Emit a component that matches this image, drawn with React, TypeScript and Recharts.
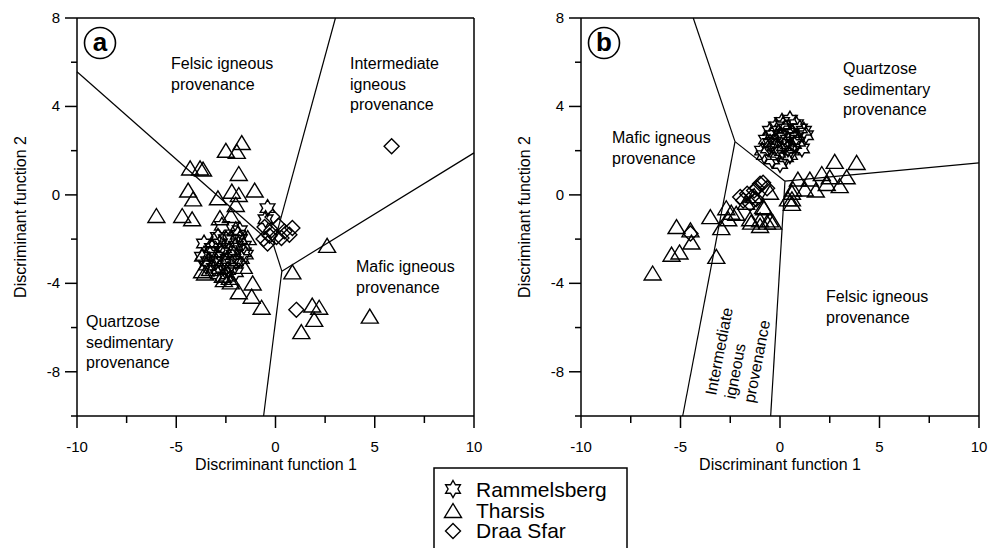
import React from 'react'
import { ScatterChart, Scatter, XAxis, YAxis, ReferenceLine } from 'recharts'

const FONT = "'Liberation Sans', Arial, sans-serif"

const X_TICKS = [-10, -7.5, -5, -2.5, 0, 2.5, 5, 7.5, 10]
const X_LABELED = [-10, -5, 0, 5, 10]
const Y_TICKS = [-10, -8, -6, -4, -2, 0, 2, 4, 6, 8]
const Y_LABELED = [-8, -4, 0, 4, 8]

// Panel (a) samples
const RAM_A_X = [-0.4, -0.5, -2.7, -1.8, -3.6, -1.5, -3.2, -3.0, -2.8, -2.5, -2.3, -2.0, -1.8, -1.6, -2.6, -2.2, -3.4, -3.1, -2.9, -2.4, -2.0, -1.7, -3.3, -2.7, -2.1, -3.5, -2.5, -2.2, -1.9, -2.9, -3.7, -2.4, -2.0, -1.6, -3.0, -2.6]
const RAM_A_Y = [-0.6, -1.1, -1.4, -1.6, -2.2, -2.7, -2.4, -2.8, -2.2, -2.0, -2.5, -2.3, -2.0, -2.3, -3.0, -3.1, -3.0, -3.3, -3.6, -3.4, -3.0, -2.9, -2.7, -2.6, -2.7, -3.2, -3.7, -2.0, -1.8, -1.9, -2.8, -2.9, -3.5, -2.6, -3.0, -2.4]

const THA_A_X = [-1.7, -2.5, -1.95, -4.3, -3.8, -3.65, -1.85, -4.4, -4.15, -2.9, -2.2, -1.85, -1.05, -2.0, -6.0, -4.7, -4.2, -2.8, -2.25, 2.6, 0.85, -3.55, -1.15, -1.85, -1.2, -0.7, 1.85, 2.2, 1.95, 1.3, -2.25, -2.65, 4.75, -3.3, -2.8, -3.6, -2.3, -1.6, -2.0, -3.1, -1.4, -3.7, -2.6]
const THA_A_Y = [2.3, 1.95, 1.9, 1.15, 1.15, 1.1, 0.9, 0.15, -0.25, -0.2, 0.1, -0.05, 0.15, -0.5, -1.0, -1.0, -1.15, -1.1, -1.0, -2.35, -3.55, -3.6, -4.05, -4.45, -4.65, -5.15, -5.05, -5.15, -5.7, -6.25, -4.0, -3.7, -5.55, -3.4, -3.3, -2.7, -3.8, -3.3, -1.6, -2.1, -2.0, -3.5, -3.9]

const DRA_A_X = [5.85, 1.05, -0.15, -0.55, 0.85, 0.05, -0.4, 0.3, 0.45, -0.2, 0.7, -0.6, 0.15, -0.3]
const DRA_A_Y = [2.2, -5.2, -1.0, -1.45, -1.5, -1.9, -2.2, -1.95, -1.65, -1.6, -1.8, -2.0, -1.4, -1.85]

// Panel (b) samples
const RAM_B_X = [0.1, 0.5, 0.8, -0.2, 1.0, 0.3, -0.5, 0.6, 1.3, 0.0, -0.7, 0.4, 0.9, -0.3, 0.2, 1.1, -0.6, 0.6, -0.1, -0.8, 0.3, 0.0, -0.4, 0.7, -0.9, 0.5, 0.2, -0.4, 0.8, 1.2, 0.15, -0.2, 0.4, -0.5]
const RAM_B_Y = [3.3, 3.4, 3.2, 3.1, 3.0, 3.0, 2.9, 2.8, 2.7, 2.7, 2.5, 2.5, 2.4, 2.4, 2.2, 2.1, 2.1, 2.0, 1.9, 1.8, 1.7, 1.4, 1.6, 2.3, 2.0, 1.8, 2.6, 2.7, 2.6, 2.9, 3.15, 2.2, 2.1, 2.35]

const THA_B_X = [-6.4, -5.2, -4.5, -4.45, -5.45, -5.05, -3.5, -3.2, -2.7, -2.45, -2.2, -2.6, -2.95, -1.45, -1.0, -0.65, -0.35, -0.8, -0.5, 0.6, 0.6, 2.75, 3.85, 3.35, 2.1, 2.5, 3.0, 1.5, 0.9, 1.8, 1.25, 0.65, 0.4, 0.6, 2.35, -1.5, -1.0, -0.5, -0.85, -1.7, -1.3]
const THA_B_Y = [-3.6, -1.5, -1.65, -2.2, -2.75, -2.65, -1.05, -2.85, -0.65, -0.85, -0.9, -1.15, -1.55, -1.3, -1.45, -1.3, -1.3, -0.65, 0.05, 0.05, -0.25, 1.45, 1.4, 0.75, 0.9, 0.75, 0.35, 0.65, 0.65, 0.15, 0.2, 0.2, -0.25, -0.45, 0.45, -1.15, -1.2, -1.2, -0.6, -0.4, -0.1]

const DRA_B_X = [-1.65, -1.0, -1.3, -1.85, -0.65, -1.5, -1.15, -4.5, -0.85, -1.4, -2.0, -1.2]
const DRA_B_Y = [0.05, 0.5, 0.2, -0.25, 0.3, -0.4, 0.3, -1.75, 0.55, -0.1, -0.1, -0.2]

// Field boundaries [x1, y1, x2, y2]
const BOUNDS_A = [
  [-10, 5.57, -0.1, -2.27],
  [3.02, 8, -0.1, -2.27],
  [-0.1, -2.27, 0.32, -3.45],
  [0.32, -3.45, 10, 1.9],
  [0.32, -3.45, -0.6, -10],
]
const BOUNDS_B = [
  [-4.36, 8, -2.26, 2.41],
  [-2.26, 2.41, -4.89, -10],
  [-2.26, 2.41, 0.25, 0.62],
  [0.25, 0.62, 10, 1.45],
  [0.25, 0.62, -0.47, -10],
]

const pts = (xs: number[], ys: number[]) => xs.map((x, i) => ({ x, y: ys[i] }))

const STROKE = 1.4
const AXIS_LINE = { stroke: '#000', strokeWidth: 1.5 }

function starPoints(cx: number, cy: number, R: number) {
  const p: string[] = []
  for (let k = 0; k < 12; k++) {
    const a = ((-90 + k * 30) * Math.PI) / 180
    const r = k % 2 === 0 ? R : R / Math.sqrt(3)
    p.push(`${cx + r * Math.cos(a)},${cy + r * Math.sin(a)}`)
  }
  return p.join(' ')
}

const Star = ({ cx, cy }: any) => (
  <polygon points={starPoints(cx, cy, 8.5)} fill="none" stroke="#000" strokeWidth={STROKE} />
)
const Tri = ({ cx, cy }: any) => (
  <polygon points={`${cx},${cy - 8.5} ${cx + 8.5},${cy + 5.5} ${cx - 8.5},${cy + 5.5}`} fill="none" stroke="#000" strokeWidth={STROKE} />
)
const Dia = ({ cx, cy }: any) => (
  <polygon points={`${cx},${cy - 7.5} ${cx + 7.5},${cy} ${cx},${cy + 7.5} ${cx - 7.5},${cy}`} fill="none" stroke="#000" strokeWidth={STROKE} />
)

function XTick({ x, y, payload }: any) {
  const major = X_LABELED.includes(payload.value)
  return (
    <g>
      <line x1={x} x2={x} y1={y} y2={y + (major ? 12 : 7)} stroke="#000" strokeWidth={1.5} />
      {major && (
        <text x={x} y={y + 36} textAnchor="middle" fontSize={15} fontFamily={FONT} fill="#000">
          {payload.value}
        </text>
      )}
    </g>
  )
}

function YTick({ x, y, payload }: any) {
  const major = Y_LABELED.includes(payload.value)
  return (
    <g>
      <line x1={x - (major ? 12 : 6)} x2={x} y1={y} y2={y} stroke="#000" strokeWidth={1.5} />
      {major && (
        <text x={x - 17} y={y + 5} textAnchor="end" fontSize={15} fontFamily={FONT} fill="#000">
          {payload.value}
        </text>
      )}
    </g>
  )
}

function Panel({ width, left, right, ram, tha, dra, bounds }: any) {
  // plot box spans y 18..416; axes take part of the outer margin
  return (
    <ScatterChart width={width} height={548} margin={{ top: 17, right: right - 1, bottom: 102, left: left - 40 }}>
      <XAxis type="number" dataKey="x" domain={[-10, 10]} ticks={X_TICKS} interval={0} height={30}
        tickSize={0} tickMargin={0} tickLine={false} tick={<XTick />} axisLine={AXIS_LINE} allowDataOverflow />
      <YAxis type="number" dataKey="y" domain={[-10, 8]} ticks={Y_TICKS} interval={0} width={40}
        tickSize={0} tickMargin={0} tickLine={false} tick={<YTick />} axisLine={AXIS_LINE} allowDataOverflow />
      <XAxis xAxisId="top" orientation="top" type="number" dataKey="x" domain={[-10, 10]} height={1}
        tick={false} tickLine={false} axisLine={AXIS_LINE} />
      <YAxis yAxisId="right" orientation="right" type="number" dataKey="y" domain={[-10, 8]} width={1}
        tick={false} tickLine={false} axisLine={AXIS_LINE} />
      {bounds.map((b: number[], i: number) => (
        <ReferenceLine key={i} segment={[{ x: b[0], y: b[1] }, { x: b[2], y: b[3] }]} stroke="#000" strokeWidth={1.2} ifOverflow="visible" />
      ))}
      <Scatter data={ram} shape={Star} isAnimationActive={false} />
      <Scatter data={tha} shape={Tri} isAnimationActive={false} />
      <Scatter data={dra} shape={Dia} isAnimationActive={false} />
    </ScatterChart>
  )
}

function Lines({ x, y, lines, size = 16, gap = 20.5 }: any) {
  return (
    <text x={x} y={y} fontSize={size} fontFamily={FONT} fill="#000">
      {lines.map((l: string, i: number) => (
        <tspan key={i} x={x} dy={i === 0 ? 0 : gap}>{l}</tspan>
      ))}
    </text>
  )
}

function Badge({ cx, cy, letter }: any) {
  return (
    <g>
      <circle cx={cx} cy={cy} r={15.5} fill="#fff" stroke="#000" strokeWidth={1.6} />
      <text x={cx} y={cy + 8} textAnchor="middle" fontSize={26} fontWeight="bold" fontFamily={FONT}>{letter}</text>
    </g>
  )
}

export default function App() {
  return (
    <div style={{ position: 'absolute', left: 0, top: 0, width: 1003, height: 548, background: '#fff', overflow: 'hidden' }}>
      <div style={{ position: 'absolute', left: 0, top: 0 }}>
        <Panel width={502} left={77} right={28}
          ram={pts(RAM_A_X, RAM_A_Y)} tha={pts(THA_A_X, THA_A_Y)} dra={pts(DRA_A_X, DRA_A_Y)} bounds={BOUNDS_A} />
      </div>
      <div style={{ position: 'absolute', left: 502, top: 0 }}>
        <Panel width={501} left={79} right={24}
          ram={pts(RAM_B_X, RAM_B_Y)} tha={pts(THA_B_X, THA_B_Y)} dra={pts(DRA_B_X, DRA_B_Y)} bounds={BOUNDS_B} />
      </div>
      <svg width={1003} height={548} style={{ position: 'absolute', left: 0, top: 0, pointerEvents: 'none' }}>
        <Badge cx={100} cy={43} letter="a" />
        <Badge cx={604} cy={43} letter="b" />

        <Lines x={171} y={69} lines={['Felsic igneous', 'provenance']} />
        <Lines x={350} y={69} lines={['Intermediate', 'igneous', 'provenance']} />
        <Lines x={356} y={272} lines={['Mafic igneous', 'provenance']} />
        <Lines x={86} y={327} lines={['Quartzose', 'sedimentary', 'provenance']} />

        <Lines x={843} y={74} lines={['Quartzose', 'sedimentary', 'provenance']} />
        <Lines x={612} y={143} lines={['Mafic igneous', 'provenance']} />
        <Lines x={826} y={302} lines={['Felsic igneous', 'provenance']} />
        <g transform="translate(716,396) rotate(-79)">
          <Lines x={0} y={0} lines={['Intermediate', 'igneous', 'provenance']} gap={19.5} />
        </g>

        <text x={276} y={470} textAnchor="middle" fontSize={16} fontFamily={FONT}>Discriminant function 1</text>
        <text x={780} y={470} textAnchor="middle" fontSize={16} fontFamily={FONT}>Discriminant function 1</text>
        <text transform="translate(26,217) rotate(-90)" textAnchor="middle" fontSize={16} fontFamily={FONT}>Discriminant function 2</text>
        <text transform="translate(530,217) rotate(-90)" textAnchor="middle" fontSize={16} fontFamily={FONT}>Discriminant function 2</text>

        <rect x={434} y={468} width={193} height={100} fill="#fff" stroke="#000" strokeWidth={1.5} />
        <Star cx={453} cy={489} />
        <text x={476} y={497} fontSize={21} fontFamily={FONT}>Rammelsberg</text>
        <Tri cx={453} cy={512} />
        <text x={476} y={518} fontSize={21} fontFamily={FONT}>Tharsis</text>
        <Dia cx={453} cy={531} />
        <text x={476} y={538} fontSize={21} fontFamily={FONT}>Draa Sfar</text>
      </svg>
    </div>
  )
}
